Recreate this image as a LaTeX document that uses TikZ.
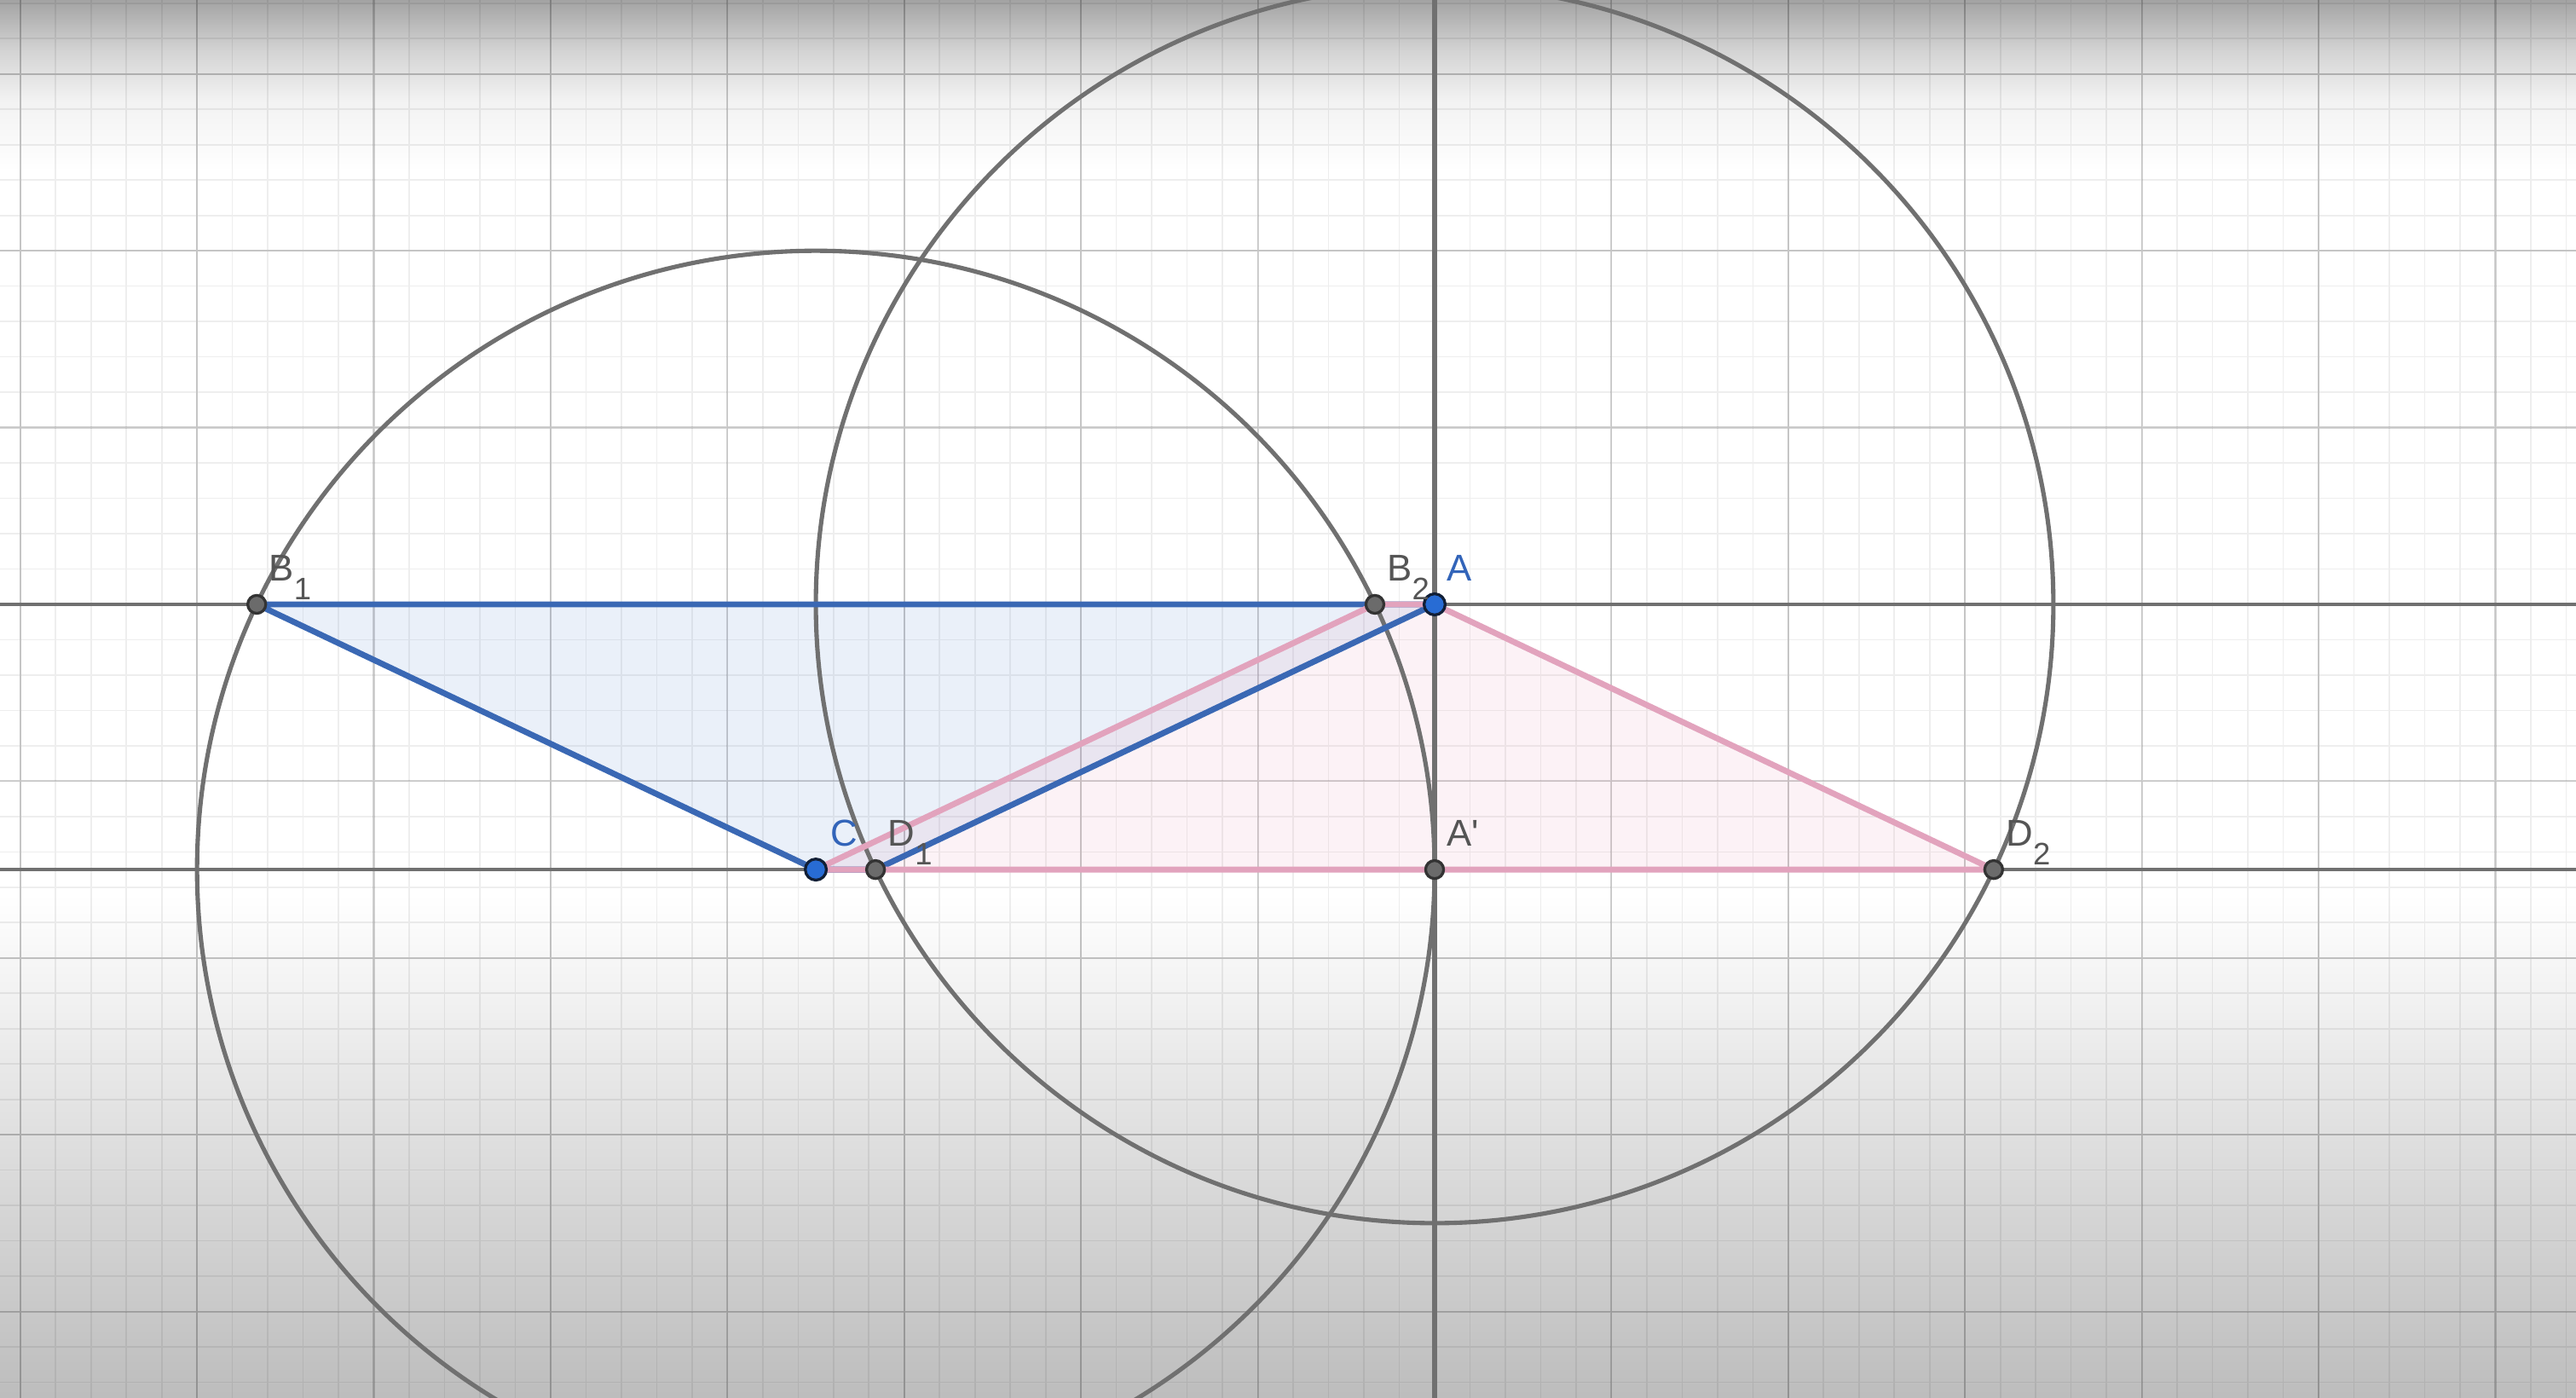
\documentclass[tikz,border=0pt]{standalone}
\usepackage{fontspec}
\newfontfamily\ggfont{Liberation Sans}
\definecolor{ggblue}{RGB}{58,104,180}
\definecolor{ggdotblue}{RGB}{40,108,212}
\definecolor{ggpink}{RGB}{226,163,189}
\definecolor{ggpinkfill}{RGB}{232,120,160}
\definecolor{ggbluefill}{RGB}{70,120,205}
\definecolor{gggray}{RGB}{112,112,112}
\definecolor{gglabel}{RGB}{85,85,85}
\definecolor{gglabelblue}{RGB}{50,100,185}
\newcommand{\ggsub}[1]{\raisebox{-6pt}{\fontsize{10}{10}\selectfont #1}}

\begin{document}
\begin{tikzpicture}[x=2cm,y=2cm,
    gridminor/.style={black,opacity=0.065,line width=0.45pt},
    gridmajor/.style={black,opacity=0.17,line width=0.6pt},
    circ/.style={gggray,line width=1.4pt},
    axisline/.style={gggray,line width=1.3pt},
    blueedge/.style={ggblue,line width=1.9pt,line join=round},
    pinkedge/.style={ggpink,line width=1.9pt,line join=round},
    graypt/.style={circle,draw=black!80,line width=0.9pt,fill=black!58,inner sep=0pt,minimum size=5.8pt},
    bluept/.style={circle,draw=black!70!ggblue,line width=0.9pt,fill=ggdotblue,inner sep=0pt,minimum size=6.8pt},
    lbl/.style={anchor=base west,inner sep=0pt,xshift=3.8pt,yshift=7.5pt,text=gglabel,font=\ggfont\fontsize{12}{14}\selectfont},
    lblblue/.style={lbl,text=gglabelblue}]
    % Frame
    \coordinate (SW) at (-8.1147,-4.4889);
    \coordinate (NE) at (6.4561,3.4185);
    \useasboundingbox (SW) rectangle (NE);
    \fill[white] (SW) rectangle (NE);

    % Screen shading (top and bottom)
    \shade[top color=black!36,bottom color=black!17] (-8.1147,3.4185) rectangle (6.4561,3.13);
    \shade[top color=black!17,bottom color=black!5] (-8.1147,3.13) rectangle (6.4561,2.85);
    \shade[top color=black!5,bottom color=white] (-8.1147,2.85) rectangle (6.4561,2.45);
    \shade[top color=white,bottom color=black!26] (-8.1147,-1.64) rectangle (6.4561,-4.4889);

    % Grid
    \draw[gridminor,step=0.2] (SW) grid (NE);
    \draw[gridmajor,step=1] (SW) grid (NE);

    % Points
    \coordinate (A) at (0,0);
    \coordinate (A1) at (0,-1.5);
    \coordinate (C) at (-3.5,-1.5);
    \coordinate (B1) at (-6.6623,0);
    \coordinate (B2) at (-0.3377,0);
    \coordinate (D1) at (-3.1623,-1.5);
    \coordinate (D2) at (3.1623,-1.5);

    % Triangle fills
    \fill[ggbluefill,opacity=0.11] (B1) -- (A) -- (D1) -- (C) -- cycle;
    \fill[ggpinkfill,opacity=0.09] (C) -- (B2) -- (A) -- (D2) -- cycle;

    % Circles
    \draw[circ] (C) circle (3.5);
    \draw[circ] (A) circle (3.5);

    % Lines through A and A'
    \draw[axisline] (-8.1147,0) -- (6.4561,0);
    \draw[axisline] (-8.1147,-1.5) -- (6.4561,-1.5);
    \draw[axisline,line width=1.6pt] (0,3.4185) -- (0,-4.4889);

    % Blue edges
    \draw[blueedge] (B1) -- (A) -- (D1) -- (C) -- cycle;

    % Pink edges
    \draw[pinkedge] (C) -- (B2) -- (A) -- (D2) -- cycle;

    % Dots
    \node[graypt] (B1-dot) at (B1) {};
    \node[graypt] (B2-dot) at (B2) {};
    \node[graypt] (D1-dot) at (D1) {};
    \node[graypt] (D2-dot) at (D2) {};
    \node[graypt] (A1-dot) at (A1) {};
    \node[bluept] (C-dot) at (C) {};
    \node[bluept] (A-dot) at (A) {};

    % Labels
    \node[lbl] (B1-lbl) at (B1) {B\ggsub{1}};
    \node[lbl] (B2-lbl) at (B2) {B\ggsub{2}};
    \node[lbl] (D1-lbl) at (D1) {D\ggsub{1}};
    \node[lbl] (D2-lbl) at (D2) {D\ggsub{2}};
    \node[lbl] (A1-lbl) at (A1) {A\textquotesingle};
    \node[lblblue,xshift=0.8pt] (C-lbl) at (C) {C};
    \node[lblblue] (A-lbl) at (A) {A};
\end{tikzpicture}
\end{document}
